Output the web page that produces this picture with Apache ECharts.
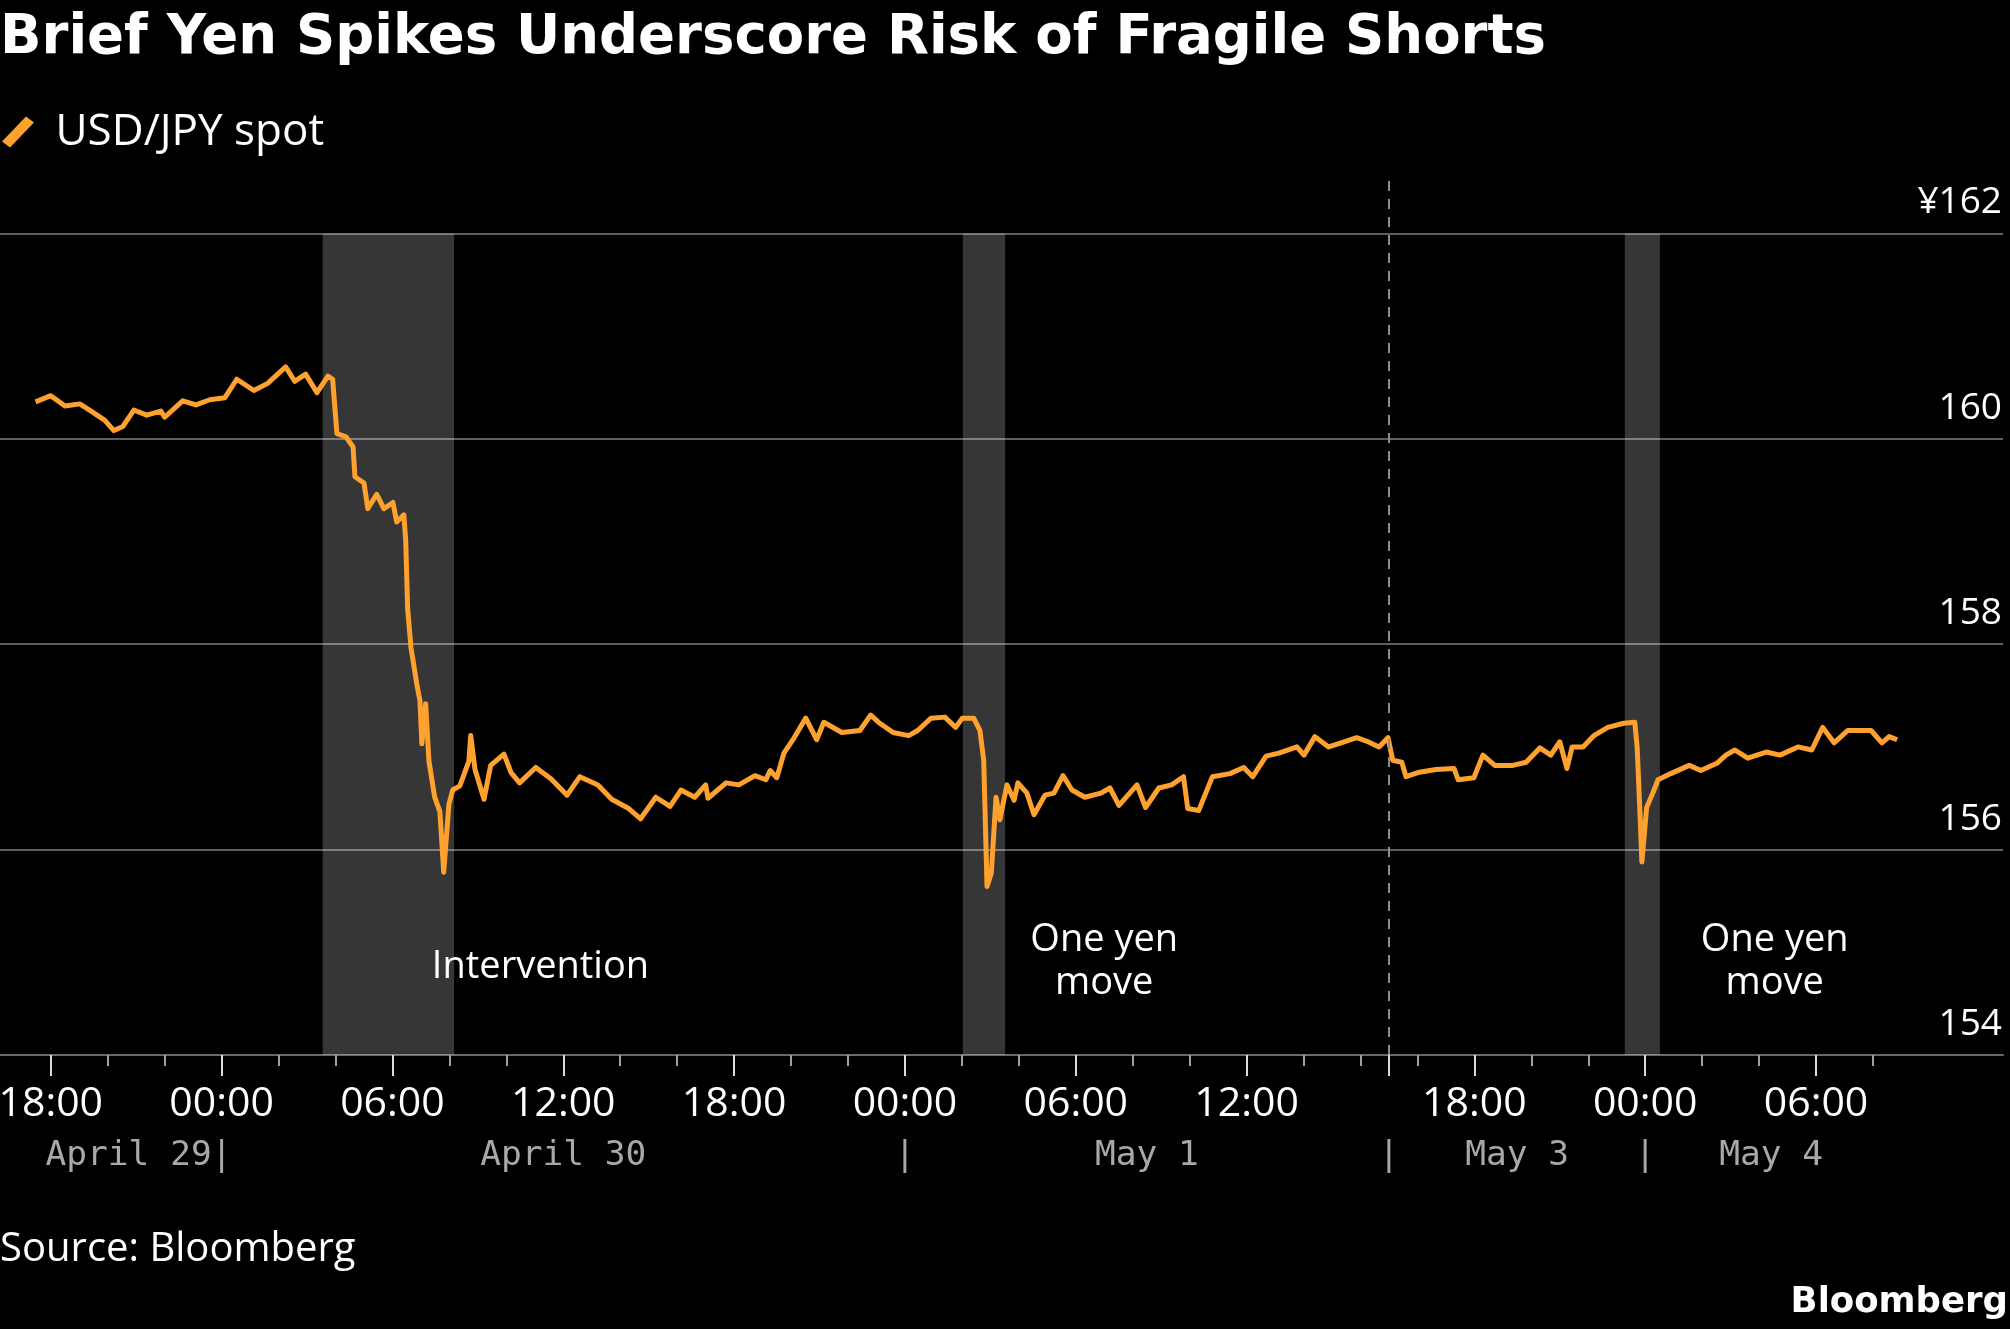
<!DOCTYPE html>
<html><head><meta charset="utf-8">
<script src="https://cdn.jsdelivr.net/npm/echarts@6/dist/echarts.min.js"></script>
<style>html,body{margin:0;padding:0;background:#000;}#c{width:2010px;height:1329px;}</style>
</head><body><div id="c"></div>
<script>
// ---------------- DATA ----------------
const titleText = 'Brief Yen Spikes Underscore Risk of Fragile Shorts';
const seriesName = 'USD/JPY spot';
const sourceText = 'Source: Bloomberg';
const times = [
'4/29 17:28','4/29 18:00','4/29 18:30','4/29 19:01','4/29 19:25','4/29 19:54','4/29 20:13','4/29 20:32','4/29 20:55','4/29 21:22',
'4/29 21:52','4/29 22:00','4/29 22:38','4/29 23:06','4/29 23:35','4/30 00:07','4/30 00:32','4/30 01:08','4/30 01:37','4/30 02:15',
'4/30 02:34','4/30 02:57','4/30 03:21','4/30 03:44','4/30 03:54','4/30 04:03','4/30 04:22','4/30 04:37','4/30 04:41','4/30 05:00',
'4/30 05:08','4/30 05:27','4/30 05:42','4/30 06:01','4/30 06:09','4/30 06:24','4/30 06:28','4/30 06:32','4/30 06:39','4/30 06:51',
'4/30 06:58','4/30 07:02','4/30 07:10','4/30 07:17','4/30 07:29','4/30 07:40','4/30 07:48','4/30 07:59','4/30 08:07','4/30 08:22',
'4/30 08:41','4/30 08:45','4/30 08:54','4/30 09:13','4/30 09:27','4/30 09:55','4/30 10:10','4/30 10:28','4/30 11:02','4/30 11:34',
'4/30 12:08','4/30 12:35','4/30 13:13','4/30 13:42','4/30 14:18','4/30 14:43','4/30 15:15','4/30 15:45','4/30 16:08','4/30 16:37',
'4/30 17:00','4/30 17:05','4/30 17:43','4/30 18:10','4/30 18:44','4/30 19:07','4/30 19:16','4/30 19:30','4/30 19:45','4/30 20:04',
'4/30 20:31','4/30 20:54','4/30 21:09','4/30 21:47','4/30 22:25','4/30 22:48','4/30 23:07','4/30 23:35','5/1 00:08','5/1 00:27',
'5/1 00:55','5/1 01:24','5/1 01:47','5/1 02:01','5/1 02:25','5/1 02:38','5/1 02:46','5/1 02:53','5/1 03:02','5/1 03:12',
'5/1 03:20','5/1 03:35','5/1 03:50','5/1 03:58','5/1 04:17','5/1 04:32','5/1 04:55','5/1 05:14','5/1 05:33','5/1 05:52',
'5/1 06:19','5/1 06:53','5/1 07:12','5/1 07:31','5/1 08:09','5/1 08:27','5/1 08:55','5/1 09:22','5/1 09:47','5/1 09:56',
'5/1 10:19','5/1 10:48','5/1 11:25','5/1 11:54','5/1 12:13','5/1 12:41','5/1 13:08','5/1 13:46','5/1 14:01','5/1 14:24',
'5/1 14:53','5/1 15:19','5/1 15:52','5/1 16:16','5/1 16:39','5/1 16:58','5/3 15:08','5/3 15:27','5/3 15:36','5/3 16:01',
'5/3 16:39','5/3 17:17','5/3 17:26','5/3 17:59','5/3 18:18','5/3 18:43','5/3 19:21','5/3 19:49','5/3 20:18','5/3 20:41',
'5/3 21:00','5/3 21:15','5/3 21:26','5/3 21:49','5/3 22:12','5/3 22:41','5/3 23:15','5/3 23:38','5/3 23:43','5/3 23:49',
'5/3 23:53','5/4 00:03','5/4 00:16','5/4 00:27','5/4 00:54','5/4 01:33','5/4 01:57','5/4 02:31','5/4 02:50','5/4 03:09',
'5/4 03:36','5/4 04:15','5/4 04:44','5/4 05:22','5/4 05:51','5/4 06:14','5/4 06:38','5/4 07:07','5/4 07:41','5/4 07:56',
'5/4 08:19','5/4 08:34','5/4 08:51'
];
const usdjpy = [
160.36,160.42,160.32,160.34,160.27,160.18,160.08,160.12,160.28,160.23,
160.27,160.21,160.37,160.33,160.38,160.40,160.58,160.47,160.54,160.70,
160.56,160.63,160.45,160.61,160.58,160.05,160.02,159.92,159.63,159.57,
159.32,159.46,159.32,159.38,159.19,159.26,159.01,158.35,157.97,157.62,
157.45,157.03,157.42,156.86,156.51,156.37,155.78,156.44,156.58,156.62,
156.86,157.11,156.78,156.49,156.82,156.93,156.75,156.65,156.80,156.69,
156.53,156.71,156.63,156.49,156.40,156.30,156.51,156.42,156.58,156.51,
156.63,156.50,156.65,156.63,156.72,156.68,156.77,156.70,156.94,157.07,
157.28,157.07,157.24,157.14,157.16,157.31,157.23,157.14,157.11,157.16,
157.28,157.29,157.19,157.28,157.28,157.16,156.87,155.64,155.77,156.51,
156.29,156.63,156.48,156.65,156.55,156.34,156.53,156.55,156.72,156.58,
156.51,156.55,156.60,156.43,156.63,156.41,156.60,156.63,156.71,156.40,
156.38,156.71,156.74,156.80,156.71,156.91,156.94,157.00,156.92,157.10,
157.00,157.04,157.09,157.05,157.00,157.09,156.87,156.85,156.71,156.75,
156.78,156.79,156.68,156.70,156.92,156.82,156.82,156.85,156.99,156.92,
157.05,156.79,157.00,157.00,157.11,157.19,157.23,157.24,157.00,156.35,
155.88,156.41,156.55,156.68,156.74,156.82,156.77,156.84,156.92,156.97,
156.89,156.95,156.92,157.00,156.97,157.19,157.04,157.16,157.16,157.16,
157.04,157.10,157.07
];
// weekend gap in the time axis: session closes, then resumes
const sessionBreak = ['5/1 17:00', '5/3 15:00'];
const axisOrigin = '4/29 18:00';
const axisRange = ['4/29 16:13', '5/4 12:34'];
const yTicks = [154, 156, 158, 160, 162];
const yTop = 162.52;
const dateLabels = ['April 29', 'April 30', 'May 1', 'May 3', 'May 4'];
const dateDays = ['4/29', '4/30', '5/1', '5/3', '5/4'];
const shadedPeriods = [['4/30 03:33', '4/30 08:10'], ['5/1 02:02', '5/1 03:31'], ['5/3 23:17', '5/4 00:31']];
const annotations = [
  { text: 'Intervention', at: '4/30 11:12', value: 154.86 },
  { text: 'One yen\nmove', at: '5/1 07:00', value: 154.91 },
  { text: 'One yen\nmove', at: '5/4 04:33', value: 154.91 }
];

// ---------------- helpers ----------------
const H = 3.6e6;
function parseT(s) {
  const [d, hm] = s.split(' ');
  const [mo, da] = d.split('/').map(Number);
  const [h, mi] = (hm || '00:00').split(':').map(Number);
  return Date.UTC(2024, mo - 1, da, h, mi);
}
const T0 = parseT(axisOrigin);
const breakIdx = (parseT(sessionBreak[0]) - T0) / H;
const gapH = (parseT(sessionBreak[1]) - parseT(sessionBreak[0])) / H;
function realToIdx(r) { return r > breakIdx ? Math.max(breakIdx, r - gapH) : r; }
function toIdx(s) { return realToIdx((parseT(s) - T0) / H); }
function idxToReal(i) { return i <= breakIdx + 1e-9 ? i : i + gapH; }
function fmtClock(i) {
  const d = new Date(T0 + idxToReal(i) * H);
  const p = n => String(n).padStart(2, '0');
  return p(d.getUTCHours()) + ':' + p(d.getUTCMinutes());
}
const seriesData = times.map((t, k) => [toIdx(t), usdjpy[k]]);
const realFirst = (parseT(times[0]) - T0) / H;
const realLast = (parseT(times[times.length - 1]) - T0) / H;
function inGap(r) { return r > breakIdx + 1e-9 && r < breakIdx + gapH - 1e-9; }
const majorVals = [], minorVals = [];
for (let r = Math.ceil(realFirst / 2) * 2; r <= realLast; r += 2) {
  if (inGap(r)) continue;
  const i = realToIdx(r);
  if (r % 6 === 0) majorVals.push(i); else minorVals.push(i);
}
const majorTickVals = majorVals.concat([breakIdx]);
// date label positions (centre of each day's span) and separators
const dateVals = [], sepVals = [], dateMap = {};
dateDays.forEach((d, k) => {
  const mid = (parseT(d + ' 00:00') - T0) / H;
  let lo = Math.max(mid, realFirst), hi = Math.min(mid + 24, realLast);
  if (inGap(lo)) lo = breakIdx + gapH;
  if (inGap(hi)) hi = breakIdx;
  const c = (realToIdx(lo) + realToIdx(hi)) / 2;
  dateVals.push(c); dateMap[c.toFixed(4)] = dateLabels[k];
  if (k < dateDays.length - 1) sepVals.push(realToIdx(hi));
});

const xMin = toIdx(axisRange[0]), xMax = toIdx(axisRange[1]);
const ORANGE = '#FFA12E';
const bodyFont = 'Open Sans';
const monoLabel = { margin: 84, color: '#a8a8a8', fontFamily: 'DejaVu Sans Mono', fontSize: 34.5, hideOverlap: false };

const chart = echarts.init(document.getElementById('c'), null, { renderer: 'canvas' });
chart.setOption({
  backgroundColor: '#000',
  animation: false,
  title: [
    { text: titleText, left: 0, top: 11, padding: 0,
      textStyle: { color: '#fff', fontFamily: 'DejaVu Sans', fontWeight: 'bold', fontSize: 54.5 } },
    { text: sourceText, left: 0, top: 1230, padding: 0,
      textStyle: { color: '#fff', fontFamily: bodyFont, fontWeight: 'normal', fontSize: 40 } },
    { text: 'Bloomberg', right: 2, top: 1285, padding: 0,
      textStyle: { color: '#fff', fontFamily: 'DejaVu Sans', fontWeight: 'bold', fontSize: 35.5 } }
  ],
  legend: {
    left: 2, top: 110, padding: 0, data: [seriesName],
    icon: 'path://M0,25 L24,0 L32,6 L8,31 Z',
    itemWidth: 33, itemHeight: 31,
    textStyle: { color: '#fff', fontFamily: bodyFont, fontSize: 44, padding: [0, 0, 0, 16] }
  },
  grid: { left: 0, right: 7, top: 180, bottom: 274, containLabel: false, outerBoundsMode: 'none' },
  xAxis: [
    { type: 'value', min: xMin, max: xMax, position: 'bottom',
      axisLine: { show: true, onZero: false, lineStyle: { color: '#6a6a6a', width: 2 } },
      axisTick: { show: true, customValues: majorTickVals, length: 21, lineStyle: { color: '#dcdcdc', width: 2 } },
      axisLabel: { show: true, customValues: majorVals, formatter: v => fmtClock(v), margin: 29, hideOverlap: false,
        color: '#fff', fontFamily: bodyFont, fontSize: 41 },
      splitLine: { show: false } },
    { type: 'value', min: xMin, max: xMax, position: 'bottom', offset: 0,
      axisLine: { show: false, onZero: false },
      axisTick: { show: true, customValues: minorVals, length: 11, lineStyle: { color: '#a0a0a0', width: 2 } },
      axisLabel: { show: false }, splitLine: { show: false } },
    { type: 'value', min: xMin, max: xMax, position: 'bottom', offset: 0,
      axisLine: { show: false, onZero: false }, axisTick: { show: false },
      axisLabel: Object.assign({ show: true, customValues: dateVals, formatter: v => dateMap[v.toFixed(4)] || '' }, monoLabel),
      splitLine: { show: false } },
    { type: 'value', min: xMin, max: xMax, position: 'bottom', offset: 0,
      axisLine: { show: false, onZero: false }, axisTick: { show: false },
      axisLabel: Object.assign({ show: true, customValues: sepVals, formatter: () => '|' }, monoLabel),
      splitLine: { show: false } }
  ],
  yAxis: {
    type: 'value', min: yTicks[0], max: yTop, position: 'right',
    axisLine: { show: false }, axisTick: { show: false, customValues: yTicks },
    axisLabel: { show: true, customValues: yTicks, inside: true, margin: 1,
      formatter: v => (v === yTicks[yTicks.length - 1] ? '¥' + v : String(v)),
      color: '#fff', fontFamily: bodyFont, fontSize: 37, verticalAlign: 'bottom', padding: [0, 0, 12, 0] },
    splitLine: { show: true, lineStyle: { color: '#5e5e5e', width: 2 } }
  },
  series: [
    { name: 'helper', type: 'line', data: [], z: 1, silent: true,
      markArea: { silent: true, itemStyle: { color: 'rgba(255,255,255,0.21)' },
        data: shadedPeriods.map(p => [{ coord: [toIdx(p[0]), yTicks[yTicks.length - 1]] }, { coord: [toIdx(p[1]), yTicks[0]] }]) },
      markLine: { silent: true, symbol: ['none', 'none'], label: { show: false },
        lineStyle: { color: '#8c8c8c', width: 2, type: [10, 8] },
        data: [{ xAxis: breakIdx }] }
    },
    { name: seriesName, type: 'line', data: seriesData, z: 3, showSymbol: false, smooth: false,
      color: ORANGE, lineStyle: { color: ORANGE, width: 5, join: 'round' },
      markPoint: { silent: true, symbol: 'circle', symbolSize: 1, itemStyle: { color: 'rgba(0,0,0,0)' },
        label: { show: true, position: 'inside', color: '#fff', fontFamily: bodyFont, fontSize: 38, lineHeight: 43, align: 'center', verticalAlign: 'middle' },
        data: annotations.map(a => ({ coord: [toIdx(a.at), a.value], label: { formatter: a.text } })) }
    }
  ]
});
</script></body></html>
